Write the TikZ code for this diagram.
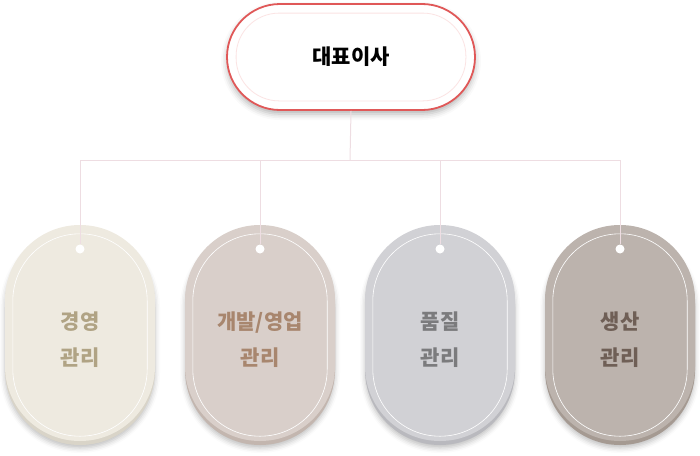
\documentclass[tikz,border=0pt]{standalone}
\usepackage{fontspec}
\setmainfont{Noto Sans CJK KR}
\usetikzlibrary{shadows.blur}

\definecolor{wirecol}{HTML}{EEDDE2}
\definecolor{ceored}{HTML}{E05858}
\definecolor{ceoin}{HTML}{FBE3E3}
\definecolor{fillA}{HTML}{EEEAE0}\definecolor{baseA}{HTML}{D9D4C8}\definecolor{textA}{HTML}{B0A384}
\definecolor{fillB}{HTML}{D9CFCA}\definecolor{baseB}{HTML}{C3B6AF}\definecolor{textB}{HTML}{A8866E}
\definecolor{fillC}{HTML}{D1D1D5}\definecolor{baseC}{HTML}{B9B9BE}\definecolor{textC}{HTML}{7B7B7D}
\definecolor{fillD}{HTML}{BCB3AD}\definecolor{baseD}{HTML}{A59A92}\definecolor{textD}{HTML}{6F5F56}

\begin{document}
\begin{tikzpicture}[x=1pt, y=-1pt,
    wire/.style = {draw=wirecol, line width=1pt},
    tag/.style = {rounded corners=75pt, minimum width=150pt, minimum height=216pt, inner sep=0pt},
    tagbase/.style = {tag, blur shadow={shadow xshift=0pt, shadow yshift=-3pt, shadow blur radius=5pt, shadow opacity=25}},
    tagline/.style = {draw=white, line width=0.6pt, rounded corners=67pt},
    tagtext/.style = {align=center, font=\bfseries\fontsize{21}{36}\selectfont},
    hole/.style = {circle, fill=white, minimum size=9pt, inner sep=0pt}]
  \useasboundingbox (0,0) rectangle (700,455);

  % top box
  \node[rounded corners=53pt, minimum width=248pt, minimum height=106pt, draw=ceored, line width=1.8pt, fill=white,
        blur shadow={shadow xshift=0pt, shadow yshift=-4pt, shadow blur radius=6pt, shadow opacity=30}]
    (ceo) at (351,57) {};
  \draw[draw=ceoin, line width=0.8pt, rounded corners=43pt] ([shift={(10,10)}]ceo.north west) rectangle ([shift={(-10,-10)}]ceo.south east);
  \node[font=\bfseries\fontsize{21}{24}\selectfont] (ceotext) at (ceo.center) {대표이사};

  % tags
  \node[tagbase, fill=baseA] (mgmtbase) at (80,337) {};
  \node[tag, fill=fillA] (mgmt) at (80,333) {};
  \node[tagbase, fill=baseB] (devbase) at (260,337) {};
  \node[tag, fill=fillB] (dev) at (260,333) {};
  \node[tagbase, fill=baseC] (qcbase) at (440,337) {};
  \node[tag, fill=fillC] (qc) at (440,333) {};
  \node[tagbase, fill=baseD] (prodbase) at (620,337) {};
  \node[tag, fill=fillD] (prod) at (620,333) {};

  \draw[tagline] ([shift={(8,9)}]mgmt.north west) rectangle ([shift={(-8,-5)}]mgmt.south east);
  \draw[tagline] ([shift={(8,9)}]dev.north west) rectangle ([shift={(-8,-5)}]dev.south east);
  \draw[tagline] ([shift={(8,9)}]qc.north west) rectangle ([shift={(-8,-5)}]qc.south east);
  \draw[tagline] ([shift={(8,9)}]prod.north west) rectangle ([shift={(-8,-5)}]prod.south east);

  \node[tagtext, text=textA] (mgmttext) at (80,340) {경영\\관리};
  \node[tagtext, text=textB] (devtext) at (260,340) {개발/영업\\관리};
  \node[tagtext, text=textC] (qctext) at (440,340) {품질\\관리};
  \node[tagtext, text=textD] (prodtext) at (620,340) {생산\\관리};

  % holes and wires
  \node[hole] (mgmthole) at (80,249) {};
  \node[hole] (devhole) at (260,249) {};
  \node[hole] (qchole) at (440,249) {};
  \node[hole] (prodhole) at (620,249) {};

  \coordinate (bus) at (350,160);
  \draw[wire] (ceo.south) -- (bus);
  \draw[wire] (bus) -| (mgmthole.north);
  \draw[wire] (bus) -| (devhole.north);
  \draw[wire] (bus) -| (qchole.north);
  \draw[wire] (bus) -| (prodhole.north);
\end{tikzpicture}
\end{document}
